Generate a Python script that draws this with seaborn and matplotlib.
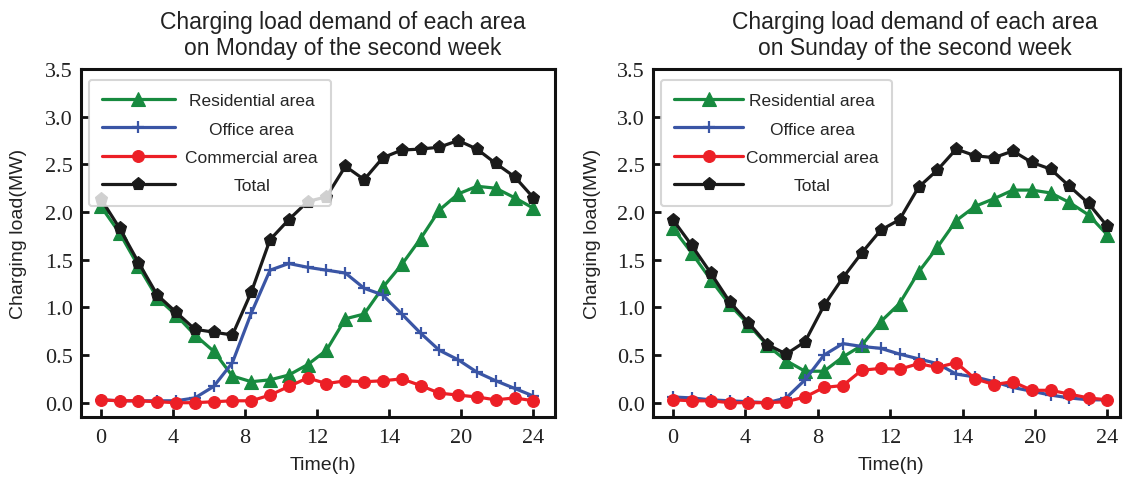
import matplotlib
matplotlib.use('Agg')
import matplotlib.pyplot as plt
import seaborn as sns

# time axis: 24 samples spread over 0-24 h
time_h = [0.0, 1.04, 2.09, 3.13, 4.17, 5.22, 6.26, 7.30, 8.35, 9.39, 10.43, 11.48,
          12.52, 13.57, 14.61, 15.65, 16.70, 17.74, 18.78, 19.83, 20.87, 21.91, 22.96, 24.0]

x_ticks = [0, 4, 8, 12, 16, 20, 24]
x_tick_labels = ['0', '4', '8', '12', '14', '20', '24']
y_ticks = [0.0, 0.5, 1.0, 1.5, 2.0, 2.5, 3.0, 3.5]

series_names = ['Residential area', 'Office area', 'Commercial area', 'Total']

# Monday
mon_residential = [2.06, 1.78, 1.43, 1.10, 0.92, 0.71, 0.54, 0.28, 0.22, 0.24, 0.29, 0.40,
                   0.55, 0.88, 0.93, 1.21, 1.45, 1.72, 2.02, 2.19, 2.27, 2.25, 2.15, 2.04]
mon_office = [0.03, 0.02, 0.02, 0.02, 0.02, 0.05, 0.17, 0.42, 0.94, 1.39, 1.46, 1.42,
              1.39, 1.36, 1.20, 1.13, 0.93, 0.73, 0.55, 0.45, 0.32, 0.23, 0.15, 0.07]
mon_commercial = [0.03, 0.02, 0.02, 0.01, 0.00, 0.00, 0.01, 0.02, 0.02, 0.08, 0.17, 0.26,
                  0.20, 0.23, 0.22, 0.23, 0.25, 0.18, 0.10, 0.08, 0.06, 0.03, 0.05, 0.02]
mon_total = [2.14, 1.83, 1.47, 1.13, 0.95, 0.77, 0.74, 0.71, 1.16, 1.71, 1.92, 2.11,
             2.16, 2.48, 2.34, 2.57, 2.65, 2.66, 2.68, 2.75, 2.66, 2.51, 2.37, 2.15]

# Sunday
sun_residential = [1.83, 1.57, 1.29, 1.03, 0.82, 0.60, 0.44, 0.33, 0.33, 0.48, 0.60, 0.85,
                   1.04, 1.37, 1.63, 1.91, 2.06, 2.14, 2.23, 2.23, 2.20, 2.10, 1.97, 1.76]
sun_office = [0.06, 0.05, 0.03, 0.02, 0.01, 0.00, 0.05, 0.24, 0.50, 0.62, 0.59, 0.57,
              0.51, 0.46, 0.41, 0.30, 0.27, 0.22, 0.16, 0.12, 0.08, 0.05, 0.03, 0.03]
sun_commercial = [0.03, 0.02, 0.02, 0.00, 0.00, 0.00, 0.01, 0.06, 0.16, 0.18, 0.34, 0.36,
                  0.35, 0.41, 0.37, 0.42, 0.25, 0.19, 0.22, 0.13, 0.13, 0.09, 0.05, 0.03]
sun_total = [1.92, 1.65, 1.36, 1.06, 0.84, 0.61, 0.51, 0.64, 1.02, 1.31, 1.57, 1.81,
             1.92, 2.26, 2.44, 2.66, 2.59, 2.57, 2.64, 2.52, 2.45, 2.27, 2.09, 1.85]

colors = ['#178a3f', '#3a55a5', '#ec1f26', '#1a1a1a']
markers = ['^', '+', 'o', 'p']
msizes = [10, 8, 8.5, 9.5]

sns.set_style('ticks')
plt.rcParams['font.family'] = ['Liberation Sans', 'DejaVu Sans']

fig = plt.figure(figsize=(11.23, 4.81), dpi=100)
ax1 = fig.add_axes([81 / 1123, 63 / 481, 474 / 1123, 348 / 481])
ax2 = fig.add_axes([653 / 1123, 63 / 481, 467 / 1123, 348 / 481])

panels = [
    dict(ax=ax1, data=[mon_residential, mon_office, mon_commercial, mon_total],
         title='Charging load demand of each area\non Monday of the second week',
         xlim=(-1.1, 25.2), title_x=0.553, ylab_x=-0.114, xlab_x=0.51,
         hlen=4.2, htpad=0.6),
    dict(ax=ax2, data=[sun_residential, sun_office, sun_commercial, sun_total],
         title='Charging load demand of each area\non Sunday of the second week',
         xlim=(-1.1, 24.7), title_x=0.56, ylab_x=-0.111, xlab_x=0.51,
         hlen=4.0, htpad=0.15),
]

legends = []
for p in panels:
    ax = p['ax']
    for vals, name, c, m, ms in zip(p['data'], series_names, colors, markers, msizes):
        sns.lineplot(x=time_h, y=vals, ax=ax, color=c, marker=m, markersize=ms,
                     linewidth=2.3, markeredgecolor=c,
                     markeredgewidth=1.6 if m == '+' else 0.8, label=name)
    ax.set_xlim(*p['xlim'])
    ax.set_ylim(-0.15, 3.5)
    ax.set_xticks(x_ticks)
    ax.set_xticklabels(x_tick_labels)
    ax.set_yticks(y_ticks)
    ax.set_yticklabels(['%.1f' % v for v in y_ticks])
    for lab in ax.get_xticklabels() + ax.get_yticklabels():
        lab.set_family('Liberation Serif')
        lab.set_fontsize(16)
    ax.tick_params(direction='in', length=6, width=2, colors='#111111', labelcolor='#222222')
    ax.tick_params(axis='x', pad=8)
    ax.tick_params(axis='y', pad=6)
    for sp in ax.spines.values():
        sp.set_visible(True)
        sp.set_linewidth(2.2)
        sp.set_color('#111111')
    ax.set_title(p['title'], fontsize=16.5, color='#222222', pad=11, linespacing=1.15,
                 x=p['title_x'])
    ax.set_xlabel('Time(h)', fontsize=14, color='#222222')
    ax.set_ylabel('Charging load(MW)', fontsize=14, color='#222222')
    ax.xaxis.set_label_coords(p['xlab_x'], -0.112)
    ax.yaxis.set_label_coords(p['ylab_x'], 0.53)
    leg = ax.legend(loc='upper left', bbox_to_anchor=(8 / 474, 1 - 11 / 348),
                    borderaxespad=0, fontsize=12.5, handlelength=p['hlen'],
                    handletextpad=p['htpad'], labelspacing=0.76, framealpha=0.8,
                    edgecolor='#cccccc', fancybox=True, borderpad=0.75)
    leg.get_frame().set_linewidth(1.5)
    legends.append(leg)

# centre the legend labels inside their column
fig.canvas.draw()
renderer = fig.canvas.get_renderer()
for leg in legends:
    widths = [t.get_window_extent(renderer).width for t in leg.get_texts()]
    shift = max(widths)
    for t, w in zip(leg.get_texts(), widths):
        t.set_position(((shift - w) / 2, 0))

fig.savefig('out.png', dpi=100)
plt.close(fig)
